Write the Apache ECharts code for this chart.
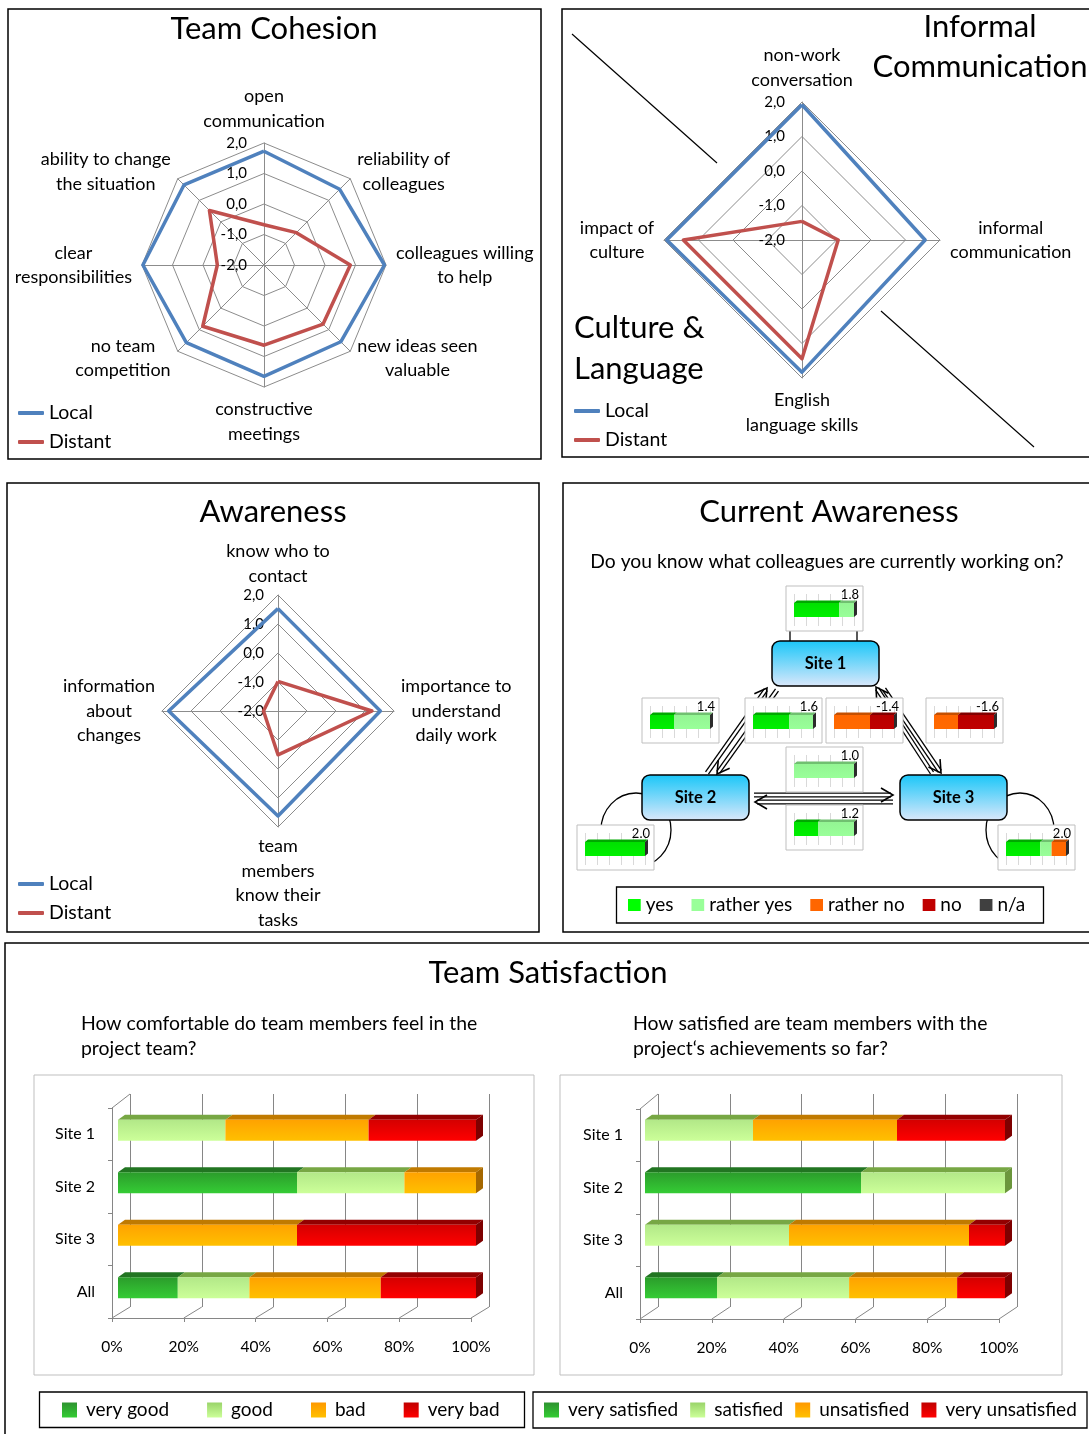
<!DOCTYPE html>
<html><head><meta charset="utf-8">
<script src="https://cdn.jsdelivr.net/npm/echarts@6/dist/echarts.min.js"></script>
<style>html,body{margin:0;padding:0;background:#fff}#c{width:1089px;height:1434px}</style>
</head><body><div id="c"></div><script>
// ================= DATA =================
const groups = ['Local', 'Distant'];
const radarTicks = [-2, -1, 0, 1, 2];

const cohesionAxes = ['open\ncommunication', 'ability to change\nthe situation', 'clear\nresponsibilities', 'no team\ncompetition', 'constructive\nmeetings', 'new ideas seen\nvaluable', 'colleagues willing\nto help', 'reliability of\ncolleagues'];
const cohesionLocal = [1.73, 1.71, 1.97, 1.6, 1.65, 1.56, 1.95, 1.51];
const cohesionDistant = [-0.68, 0.53, -0.47, 0.84, 0.63, 0.74, 0.83, -0.5];

const informalAxes = ['non-work\nconversation', 'impact of\nculture', 'English\nlanguage skills', 'informal\ncommunication'];
const informalLocal = [1.92, 1.92, 1.83, 1.57];
const informalDistant = [-1.46, 1.44, 1.44, -0.95];

const awarenessAxes = ['know who to\ncontact', 'information\nabout\nchanges', 'team\nmembers\nknow their\ntasks', 'importance to\nunderstand\ndaily work'];
const awarenessLocal = [1.53, 1.77, 1.62, 1.53];
const awarenessDistant = [-0.98, -1.5, -0.49, 1.24];

const siteNames = ['Site 1', 'Site 2', 'Site 3'];
const answerLevels = ['yes', 'rather yes', 'rather no', 'no', 'n/a'];
// mini charts: S1 self, S2->S1 (outer), S2<->S1, S1<->S3, S3->S1 (outer), S2->S3, S3->S2, S2 self, S3 self
const miniYes       = [75, 40, 60,  0,  0,   0, 40, 100, 57];
const miniRatherYes = [25, 60, 40,  0,  0, 100, 60,   0, 19];
const miniRatherNo  = [ 0,  0,  0, 60, 40,   0,  0,   0, 24];
const miniNo        = [ 0,  0,  0, 40, 60,   0,  0,   0,  0];
const miniNA        = [ 0,  0,  0,  0,  0,   0,  0,   0,  0];
const miniScores = ['1.8', '1.4', '1.6', '-1.4', '-1.6', '1.0', '1.2', '2.0', '2.0'];

const satCategories = ['Site 1', 'Site 2', 'Site 3', 'All'];
const percentTicks = [0, 20, 40, 60, 80, 100];
const comfortLevels = ['very good', 'good', 'bad', 'very bad'];
const comfortVeryGood = [0, 50, 0, 16.7];
const comfortGood     = [30, 30, 0, 20];
const comfortBad      = [40, 20, 50, 36.7];
const comfortVeryBad  = [30, 0, 50, 26.6];
const achieveLevels = ['very satisfied', 'satisfied', 'unsatisfied', 'very unsatisfied'];
const achieveVerySat   = [0, 60, 0, 20];
const achieveSat       = [30, 40, 40, 36.7];
const achieveUnsat     = [40, 0, 50, 30];
const achieveVeryUnsat = [30, 0, 10, 13.3];

// ================= STYLE / LAYOUT =================
const FONT = 'Lato';
const BLUE = '#4f81bd', RED = '#c0504d', SPLIT = '#8c8c8c', AXG = '#868686';
const LG = (a, b) => new echarts.graphic.LinearGradient(0, 0, 0, 1, [{offset: 0, color: a}, {offset: 1, color: b}]);

const radarLay = [
  {cx: 264, cy: 265, r: 122, gap: 10, tick: 17},
  {cx: 802, cy: 240, r: 138, gap: 10, tick: 17},
  {cx: 278, cy: 711, r: 116, gap: 7, tick: 14}
];
const radarAxesList = [cohesionAxes, informalAxes, awarenessAxes];
const radarVals = [[cohesionLocal, cohesionDistant], [informalLocal, informalDistant], [awarenessLocal, awarenessDistant]];

const miniBoxes = [[786, 586], [642, 698], [745, 698], [826, 698], [926, 698], [786, 747], [786, 805], [577, 825], [998, 825]];
const MINI_W = 77, MINI_H = 45;
const siteBoxes = [[772, 641], [642, 775], [900, 775]];

const satLay = [
  {frame: [112, 1108, 359, 210], back: [130, 1094, 359, 213], front: [118, 1104, 358, 210]},
  {frame: [640, 1109, 359, 210], back: [658, 1094, 359, 213], front: [645, 1104, 360, 210]}
];

const satStyles = [
  {front: ['#2b9c2b', '#35cc35'], top: '#227522', side: '#1d641d', legend: ['#2e9330', '#33cc33']},
  {front: ['#b2e888', '#ccff99'], top: '#77a744', side: '#6b963c', legend: ['#9ad46a', '#ccff99']},
  {front: ['#ffa200', '#ffc000'], top: '#c07a00', side: '#a56800', legend: ['#ff9900', '#ffc000']},
  {front: ['#d40000', '#ff0000'], top: '#930000', side: '#7e0000', legend: ['#c00000', '#ff0000']}
];
const answerStyles = [
  {front: ['#00e000', '#00f000'], top: '#00a800', legend: '#00ff00'},
  {front: ['#93f593', '#99ff99'], top: '#70c070', legend: '#99ff99'},
  {front: ['#ff6600', '#ff6a00'], top: '#c44f00', legend: '#ff6600'},
  {front: ['#b80000', '#c00000'], top: '#820000', legend: '#c00000'},
  {front: ['#404040', '#404040'], top: '#303030', side: '#2b2b2b', legend: '#404040'}
];

const txt = (size, extra) => Object.assign({fontFamily: FONT, fontSize: size, color: '#000'}, extra || {});

// ================= BUILD =================
const grids = [], xAxes = [], yAxes = [], series = [], legends = [], radars = [];

// radars
radarAxesList.forEach((axes, i) => {
  const L = radarLay[i];
  radars.push({
    center: [L.cx, L.cy], radius: L.r, startAngle: 90, splitNumber: radarTicks.length - 1, shape: 'polygon',
    indicator: axes.map(n => ({name: n, min: radarTicks[0], max: radarTicks[radarTicks.length - 1]})),
    nameGap: L.gap,
    axisName: {color: '#000', fontFamily: FONT, fontSize: 18, lineHeight: 24.5,
      formatter: v => v.split('\n').map(l => '{c|' + l + '}').join('\n'),
      rich: {c: {align: 'center', fontFamily: FONT, fontSize: 18, lineHeight: 24.5, color: '#000'}}},
    splitLine: {lineStyle: {color: SPLIT, width: 1}},
    splitArea: {show: false},
    axisLine: {lineStyle: {color: SPLIT, width: 1}},
    axisTick: {show: false}, axisLabel: {show: false}
  });
  series.push({type: 'radar', radarIndex: i, symbol: 'none', silent: true, z: 3,
    data: [
      {name: groups[0], value: radarVals[i][0], lineStyle: {color: BLUE, width: 3.5}, itemStyle: {color: BLUE}},
      {name: groups[1], value: radarVals[i][1], lineStyle: {color: RED, width: 3.5}, itemStyle: {color: RED}}
    ]});
  // tick label axis along the top spoke
  const gi = grids.length;
  grids.push({left: L.cx, top: L.cy - L.r, width: 1, height: L.r, outerBoundsMode: 'none'});
  xAxes.push({gridIndex: gi, type: 'value', show: false});
  yAxes.push({gridIndex: gi, type: 'value', min: radarTicks[0], max: radarTicks[radarTicks.length - 1], interval: radarTicks[1] - radarTicks[0],
    axisLine: {show: false}, axisTick: {show: false}, splitLine: {show: false},
    axisLabel: Object.assign(txt(15), {margin: L.tick, formatter: v => v.toFixed(1).replace('.', ',')})});
});

// 3D bar renderer
function bar3D(h, dx, dy, styles, k) {
  const st = styles[k];
  const frontFill = LG(st.front[0], st.front[1]);
  return function (params, api) {
    const s = api.value(0), e = api.value(1), cat = api.value(2), last = api.value(3);
    const a = api.coord([s, cat]), b = api.coord([e, cat]);
    const x0 = a[0], x1 = b[0], yT = a[1] - h / 2, yB = a[1] + h / 2;
    const ch = [];
    if (x1 - x0 > 0.01) {
      ch.push({type: 'polygon', shape: {points: [[x0, yT], [x0 + dx, yT - dy], [x1 + dx, yT - dy], [x1, yT]]}, style: {fill: st.top}});
      ch.push({type: 'rect', shape: {x: x0, y: yT, width: x1 - x0, height: h}, style: {fill: frontFill}});
    }
    if (last) ch.push({type: 'polygon', shape: {points: [[x1, yT], [x1 + dx, yT - dy], [x1 + dx, yB - dy], [x1, yB]]}, style: {fill: st.side || st.top}});
    return {type: 'group', children: ch};
  };
}

// Team satisfaction charts
function buildSat(lay, arrays, levels) {
  let gi = grids.length;
  grids.push({left: lay.frame[0], top: lay.frame[1], width: lay.frame[2], height: lay.frame[3], outerBoundsMode: 'none'});
  xAxes.push({gridIndex: gi, type: 'value', min: percentTicks[0], max: percentTicks[percentTicks.length - 1], interval: percentTicks[1] - percentTicks[0],
    axisLine: {show: true, lineStyle: {color: AXG}}, axisTick: {show: true, length: 4, lineStyle: {color: AXG}},
    splitLine: {show: false}, axisLabel: Object.assign(txt(15.5), {margin: 21, formatter: '{value}%'})});
  yAxes.push({gridIndex: gi, type: 'category', data: satCategories, inverse: true,
    axisLine: {show: true, lineStyle: {color: AXG}}, axisTick: {show: true, length: 4, lineStyle: {color: AXG}},
    axisLabel: Object.assign(txt(16), {margin: 17})});
  gi = grids.length;
  grids.push({left: lay.back[0], top: lay.back[1], width: lay.back[2], height: lay.back[3], outerBoundsMode: 'none'});
  xAxes.push({gridIndex: gi, type: 'value', min: percentTicks[0], max: percentTicks[percentTicks.length - 1], interval: percentTicks[1] - percentTicks[0],
    axisLine: {show: false}, axisTick: {show: false}, axisLabel: {show: false}, splitLine: {show: true, lineStyle: {color: AXG}}});
  yAxes.push({gridIndex: gi, type: 'value', show: false, splitLine: {show: false}});
  gi = grids.length;
  grids.push({left: lay.front[0], top: lay.front[1], width: lay.front[2], height: lay.front[3], outerBoundsMode: 'none'});
  xAxes.push({gridIndex: gi, type: 'value', min: 0, max: 100, show: false});
  yAxes.push({gridIndex: gi, type: 'category', data: satCategories, inverse: true, show: false});
  const n = satCategories.length;
  const stacked = arrays.map(() => []);
  for (let i = 0; i < n; i++) {
    let cum = 0, lastK = -1;
    arrays.forEach((arr, k) => { if (arr[i] > 0) lastK = k; });
    arrays.forEach((arr, k) => { stacked[k].push([cum, cum + arr[i], i, k === lastK ? 1 : 0]); cum += arr[i]; });
  }
  arrays.forEach((arr, k) => {
    series.push({type: 'custom', name: levels[k], xAxisIndex: gi, yAxisIndex: gi, clip: false, silent: true,
      itemStyle: {color: LG(satStyles[k].legend[0], satStyles[k].legend[1])},
      encode: {x: [0, 1], y: 2}, data: stacked[k], renderItem: bar3D(21, 7, 5, satStyles, k)});
  });
}
buildSat(satLay[0], [comfortVeryGood, comfortGood, comfortBad, comfortVeryBad], comfortLevels);
buildSat(satLay[1], [achieveVerySat, achieveSat, achieveUnsat, achieveVeryUnsat], achieveLevels);

// mini charts
const miniArrays = [miniYes, miniRatherYes, miniRatherNo, miniNo, miniNA];
miniBoxes.forEach((bx, j) => {
  const gi = grids.length;
  grids.push({left: bx[0] + 8, top: bx[1] + 8, width: 60, height: 32, outerBoundsMode: 'none'});
  xAxes.push({gridIndex: gi, type: 'value', min: 0, max: 100, interval: 20, axisLine: {show: false}, axisTick: {show: false},
    axisLabel: {show: false}, splitLine: {show: true, lineStyle: {color: '#d9d9d9'}}});
  yAxes.push({gridIndex: gi, type: 'category', data: [''], show: false});
  let cum = 0;
  miniArrays.forEach((arr, k) => {
    const d = [cum, cum + arr[j], 0, k === miniArrays.length - 1 ? 1 : 0];
    cum += arr[j];
    series.push({type: 'custom', name: answerLevels[k], xAxisIndex: gi, yAxisIndex: gi, clip: false, silent: true,
      itemStyle: {color: answerStyles[k].legend}, encode: {x: [0, 1], y: 2}, data: [d],
      renderItem: bar3D(14, 3, 2.5, answerStyles, k)});
  });
});

// legends
const radarLegendPos = [[18, 403], [574, 401], [18, 874]];
radarLegendPos.forEach(p => legends.push({data: groups, orient: 'vertical', left: p[0], top: p[1], icon: 'roundRect',
  itemWidth: 26, itemHeight: 4, itemGap: 9, selectedMode: false, padding: 0, textStyle: txt(19.5, {lineHeight: 20})}));
legends.push({data: answerLevels, orient: 'horizontal', left: 628, top: 895, icon: 'rect', itemWidth: 12.7, itemHeight: 12,
  itemGap: 18, selectedMode: false, padding: 0, textStyle: txt(19, {lineHeight: 20})});
legends.push({data: comfortLevels, orient: 'horizontal', left: 62, top: 1400, icon: 'rect', itemWidth: 15, itemHeight: 15,
  itemGap: 38, selectedMode: false, padding: 0, textStyle: txt(19, {lineHeight: 20, padding: [0, 0, 0, 4]})});
legends.push({data: achieveLevels, orient: 'horizontal', left: 544, top: 1400, icon: 'rect', itemWidth: 15, itemHeight: 15,
  itemGap: 12, selectedMode: false, padding: 0, textStyle: txt(19, {lineHeight: 20, padding: [0, 0, 0, 4]})});

// ================= GRAPHICS (frames, titles, diagram) =================
const G = [];
const sk = (c, w) => ({stroke: c, lineWidth: w, fill: null});
function addRect(x, y, w, h, style, z, r) { G.push({type: 'rect', z: z || 0, silent: true, shape: {x, y, width: w, height: h, r: r || 0}, style}); }
function addText(x, y, t, size, align, lh, extra) {
  G.push({type: 'text', x, y, z: 5, silent: true, style: Object.assign({text: t, fontSize: size, fontFamily: FONT, fill: '#000',
    align: align || 'center', verticalAlign: 'middle', lineHeight: lh || size * 1.2}, extra || {})});
}
function addLine(x1, y1, x2, y2, c, w, z) { G.push({type: 'line', z: z || 0, silent: true, shape: {x1, y1, x2, y2}, style: {stroke: c, lineWidth: w}}); }
function addArrow(x1, y1, x2, y2) {
  const dx = x2 - x1, dy = y2 - y1, len = Math.hypot(dx, dy), ux = dx / len, uy = dy / len, px = -uy, py = ux, o = 1.8;
  const ex = x2 - ux * 2, ey = y2 - uy * 2;
  [o, -o].forEach(s => addLine(x1 + px * s, y1 + py * s, ex + px * s, ey + py * s, '#000', 1.3, -3));
  G.push({type: 'polyline', z: -3, silent: true, shape: {points: [[x2 - ux * 12 + px * 7, y2 - uy * 12 + py * 7], [x2, y2], [x2 - ux * 12 - px * 7, y2 - uy * 12 - py * 7]]},
    style: {stroke: '#000', lineWidth: 1.6, fill: null}});
}

// panel frames
addRect(8, 9, 533, 450, sk('#000', 1.5));
addRect(562, 9, 545, 448, sk('#000', 1.5));
addRect(7, 483, 532, 449, sk('#000', 1.5));
addRect(563, 483, 545, 449, sk('#000', 1.5));
addRect(5, 943, 1100, 510, sk('#000', 1.5));

// titles
addText(274, 29, 'Team Cohesion', 31);
addText(980, 47, 'Informal\nCommunication', 31, 'center', 40);
addText(574, 348, 'Culture &\nLanguage', 31, 'left', 41);
addLine(572, 34, 717, 163, '#000', 1.2);
addLine(881, 311, 1034, 447, '#000', 1.2);
addText(273, 512, 'Awareness', 31);
addText(829, 512, 'Current Awareness', 31);
addText(827, 562, 'Do you know what colleagues are currently working on?', 19.3);
addText(548, 973, 'Team Satisfaction', 31);
addText(81, 1036, 'How comfortable do team members feel in the\nproject team?', 19.4, 'left', 25);
addText(633, 1036, 'How satisfied are team members with the\nproject‘s achievements so far?', 19.4, 'left', 25);

// satisfaction boxes & 3D floor lines
addRect(34, 1075, 500, 300, sk('#bfbfbf', 1));
addRect(560, 1075, 502, 300, sk('#bfbfbf', 1));
satLay.forEach(l => {
  const fb = l.frame[1] + l.frame[3], bb = l.back[1] + l.back[3];
  for (let k = 0; k < percentTicks.length; k++) {
    const t = k / (percentTicks.length - 1);
    addLine(l.frame[0] + l.frame[2] * t, fb, l.back[0] + l.back[2] * t, bb, AXG, 1);
  }
  addLine(l.frame[0], l.frame[1], l.back[0], l.back[1], AXG, 1);
});

// legend boxes
addRect(616.5, 887, 427, 36, sk('#000', 1.3));
addRect(39.5, 1392, 485, 35.5, sk('#000', 1.3));
addRect(533, 1392, 554, 36, sk('#000', 1.3));

// diagram: loops and arrows
G.push({type: 'rect', z: -3, silent: true, shape: {x: 790, y: 608, width: 67, height: 46, r: 8}, style: sk('#000', 1.3)});
G.push({type: 'ellipse', z: -3, silent: true, shape: {cx: 636, cy: 830, rx: 35, ry: 37}, style: sk('#000', 1.3)});
G.push({type: 'ellipse', z: -3, silent: true, shape: {cx: 1020, cy: 830, rx: 34, ry: 37}, style: sk('#000', 1.3)});
addArrow(707, 773, 767, 688);
addArrow(777, 690, 717, 774);
addArrow(932, 773, 876, 687);
addArrow(884, 689, 941, 773);
addArrow(754, 795, 893, 795);
addArrow(893, 802, 755, 802);

// site boxes
siteBoxes.forEach((b, i) => {
  addRect(b[0], b[1], 107, 45, {fill: LG('#18c6f8', '#dce8fb'), stroke: '#000', lineWidth: 1.5}, -2, 8);
  addText(b[0] + 53.5, b[1] + 23, siteNames[i], 16.5, 'center', 18, {fontWeight: 'bold'});
});
// mini boxes & score labels
miniBoxes.forEach((b, j) => {
  addRect(b[0], b[1], MINI_W, MINI_H, {fill: '#fff', stroke: '#bfbfbf', lineWidth: 1}, -2);
  addText(b[0] + 73, b[1] + 9, miniScores[j], 13, 'right', 14);
});

const chart = echarts.init(document.getElementById('c'), null, {renderer: 'canvas', width: 1089, height: 1434});
chart.setOption({
  animation: false,
  backgroundColor: '#fff',
  textStyle: {fontFamily: FONT},
  radar: radars,
  grid: grids,
  xAxis: xAxes,
  yAxis: yAxes,
  legend: legends,
  series: series,
  graphic: {elements: G}
});
</script></body></html>
